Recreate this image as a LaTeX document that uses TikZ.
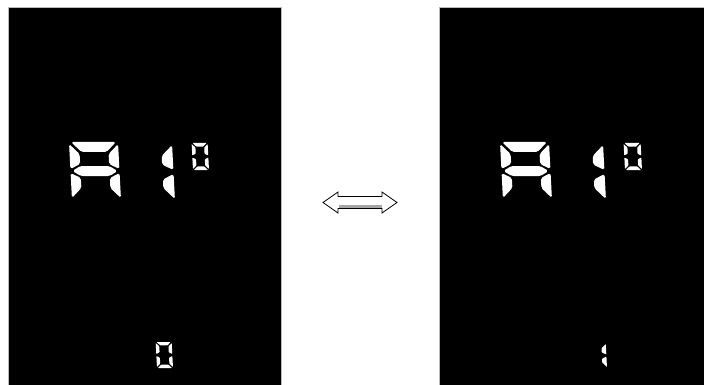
\documentclass[tikz,border=0pt]{standalone}
\usetikzlibrary{calc}
\tikzset{
  panel/.style={fill=black, draw=gray!55, line width=0.8pt},
  seg/.style={fill=white, rounded corners=1.8pt},
  smallseg/.style={fill=white, rounded corners=0.6pt},
  arrowbody/.style={fill=white, draw=black, line width=0.8pt, line join=miter},
}
\newcommand\sga{\fill[\sgS] (\sgG,\sgH) -- (\sgW-\sgG,\sgH) -- (\sgW-\sgT-\sgG,\sgH-\sgT) -- (\sgT+\sgG,\sgH-\sgT) -- cycle;}
\newcommand\sgb{\fill[\sgS] (\sgW,\sgH-\sgG) -- (\sgW,\sgH/2+\sgG) -- (\sgW-\sgT,\sgH/2+\sgT/2+\sgG) -- (\sgW-\sgT,\sgH-\sgT-\sgG) -- cycle;}
\newcommand\sgc{\fill[\sgS] (\sgW,\sgH/2-\sgG) -- (\sgW,\sgG) -- (\sgW-\sgT,\sgT+\sgG) -- (\sgW-\sgT,\sgH/2-\sgT/2-\sgG) -- cycle;}
\newcommand\sgd{\fill[\sgS] (\sgG,0) -- (\sgW-\sgG,0) -- (\sgW-\sgT-\sgG,\sgT) -- (\sgT+\sgG,\sgT) -- cycle;}
\newcommand\sge{\fill[\sgS] (0,\sgH/2-\sgG) -- (\sgT,\sgH/2-\sgT/2-\sgG) -- (\sgT,\sgT+\sgG) -- (0,\sgG) -- cycle;}
\newcommand\sgf{\fill[\sgS] (0,\sgH-\sgG) -- (\sgT,\sgH-\sgT-\sgG) -- (\sgT,\sgH/2+\sgT/2+\sgG) -- (0,\sgH/2+\sgG) -- cycle;}
\newcommand\sgg{\fill[\sgS] (\sgG,\sgH/2) -- (\sgT,\sgH/2+\sgT/2) -- (\sgW-\sgT,\sgH/2+\sgT/2) -- (\sgW-\sgG,\sgH/2) -- (\sgW-\sgT,\sgH/2-\sgT/2) -- (\sgT,\sgH/2-\sgT/2) -- cycle;}
% #1 x of bottom-left, #2 y of bottom (pixels, y down), #3 width, #4 height, #5 thickness, #6 gap, #7 style, #8 segments
\newcommand\lcddigit[8]{%
  \begin{scope}[shift={(#1,#2)}, yscale=-1, xslant=0.052]
    \def\sgW{#3}\def\sgH{#4}\def\sgT{#5}\def\sgG{#6}\def\sgS{#7}%
    \foreach \s in {#8}{\csname sg\s\endcsname}
  \end{scope}}
\begin{document}
\begin{tikzpicture}[x=1pt, y=-1pt]
  \useasboundingbox (0,0) rectangle (704,385);
  \begin{scope}
    \clip (0,0) rectangle (704,385);
    \fill[white] (0,0) rectangle (704,385);
    % panels
    \path[panel] (8,7) rectangle (281.5,390);
    \path[panel] (439.5,7) rectangle (710,390);
    % left panel digits
    \lcddigit{72}{200}{49}{58}{10}{2}{seg}{a,b,c,e,f,g}
    \lcddigit{126}{201}{49}{58}{11}{2}{seg}{b,c}
    \lcddigit{193}{170}{16}{27}{3.6}{1}{smallseg}{a,b,c,d,e,f}
    \lcddigit{157}{368}{16}{26}{3.4}{1}{smallseg}{a,b,c,d,e,f}
    % right panel digits
    \lcddigit{503}{200}{49}{58}{10}{2}{seg}{a,b,c,e,f,g}
    \lcddigit{557}{201}{49}{58}{11}{2}{seg}{b,c}
    \lcddigit{625}{170}{17}{27}{3.6}{1}{smallseg}{a,b,c,d,e,f}
    \lcddigit{591}{368}{16}{25}{4.5}{1}{smallseg}{b,c}
  \end{scope}
  % double arrow
  \coordinate (al) at (323,202.5);
  \coordinate (ar) at (397,202.5);
  \path[arrowbody] (al) -- (338,192) -- (338,196.5) -- (382,196.5) -- (382,192) -- (ar)
     -- (382,213) -- (382,208.5) -- (338,208.5) -- (338,213) -- cycle;
  \fill[gray!70] (338.5,205.3) rectangle (381.5,208.1);
\end{tikzpicture}
\end{document}
